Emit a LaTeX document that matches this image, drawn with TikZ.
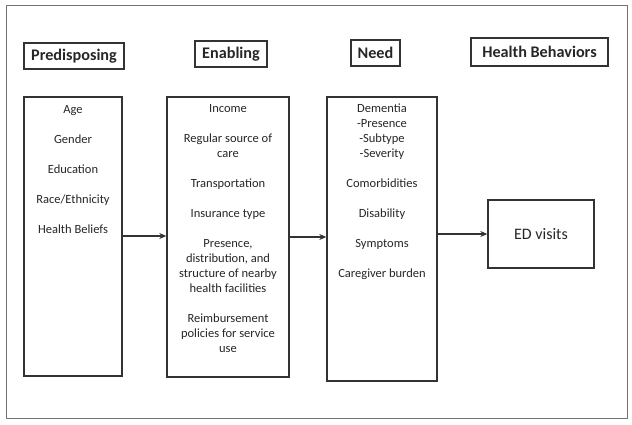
\documentclass[tikz,border=0pt]{standalone}
\usepackage{fontspec}
\setmainfont{Carlito}
\usepackage{tikz}
\usetikzlibrary{arrows.meta}
\tikzstyle{every headbox}=[draw=black!80, line width=1.4pt, inner sep=0pt, font=\fontsize{16.2}{19}\selectfont\bfseries, text=black!85]
\tikzstyle{every bigbox}=[draw=black!80, line width=1.4pt, inner sep=0pt]
\tikzstyle{every items}=[inner sep=0pt, align=center, font=\fontsize{12.5}{15}\selectfont, text=black!85]

\begin{document}
\begin{tikzpicture}[x=1pt,y=-1pt]
   \useasboundingbox (0,0) rectangle (632,425);
   \draw[black!55, line width=1pt] (6,6) rectangle (627,418);

   \node[every headbox, minimum width=100pt, minimum height=26pt] (predh) at (74,56) {Predisposing};
   \node[every headbox, minimum width=72pt, minimum height=26pt] (enah) at (231,54) {Enabling};
   \node[every headbox, minimum width=49pt, minimum height=26pt] (needh) at (375.5,53) {Need};
   \node[every headbox, minimum width=137pt, minimum height=28pt] (hbh) at (539.5,52) {Health Behaviors};

   \node[every bigbox, minimum width=98pt, minimum height=279pt] (pre) at (73,236.5) {};
   \node[every bigbox, minimum width=122pt, minimum height=280pt] (ena) at (228,237) {};
   \node[every bigbox, minimum width=110pt, minimum height=284pt] (need) at (382,239) {};
   \node[every bigbox, minimum width=106pt, minimum height=68pt, font=\fontsize{16}{19}\selectfont, text=black!85] (ed) at (541,234) {ED visits};

   \node[every items, anchor=north] (pretxt) at ([yshift=-8.5pt]pre.north) {Age\\[15pt]Gender\\[15pt]Education\\[15pt]Race/Ethnicity\\[15pt]Health Beliefs};
   \node[every items, anchor=north] (enatxt) at ([yshift=-7.5pt]ena.north) {Income\\[15pt]Regular source of\\care\\[15pt]Transportation\\[15pt]Insurance type\\[15pt]Presence,\\distribution, and\\structure of nearby\\health facilities\\[15pt]Reimbursement\\policies for service\\use};
   \node[every items, anchor=north] (needtxt) at ([yshift=-7.5pt]need.north) {Dementia\\-Presence\\-Subtype\\-Severity\\[15pt]Comorbidities\\[15pt]Disability\\[15pt]Symptoms\\[15pt]Caregiver burden};

   \draw[-{Stealth[length=7pt,width=6pt]}, line width=1.3pt, black!80] ([yshift=0.5pt]pre.east) -- ([yshift=0.5pt]pre.east -| ena.west);
   \draw[-{Stealth[length=7pt,width=6pt]}, line width=1.3pt, black!80] (ena.east) -- (ena.east -| need.west);
   \draw[-{Stealth[length=7pt,width=6pt]}, line width=1.3pt, black!80] (need.east |- ed.west) -- (ed.west);
\end{tikzpicture}
\end{document}
